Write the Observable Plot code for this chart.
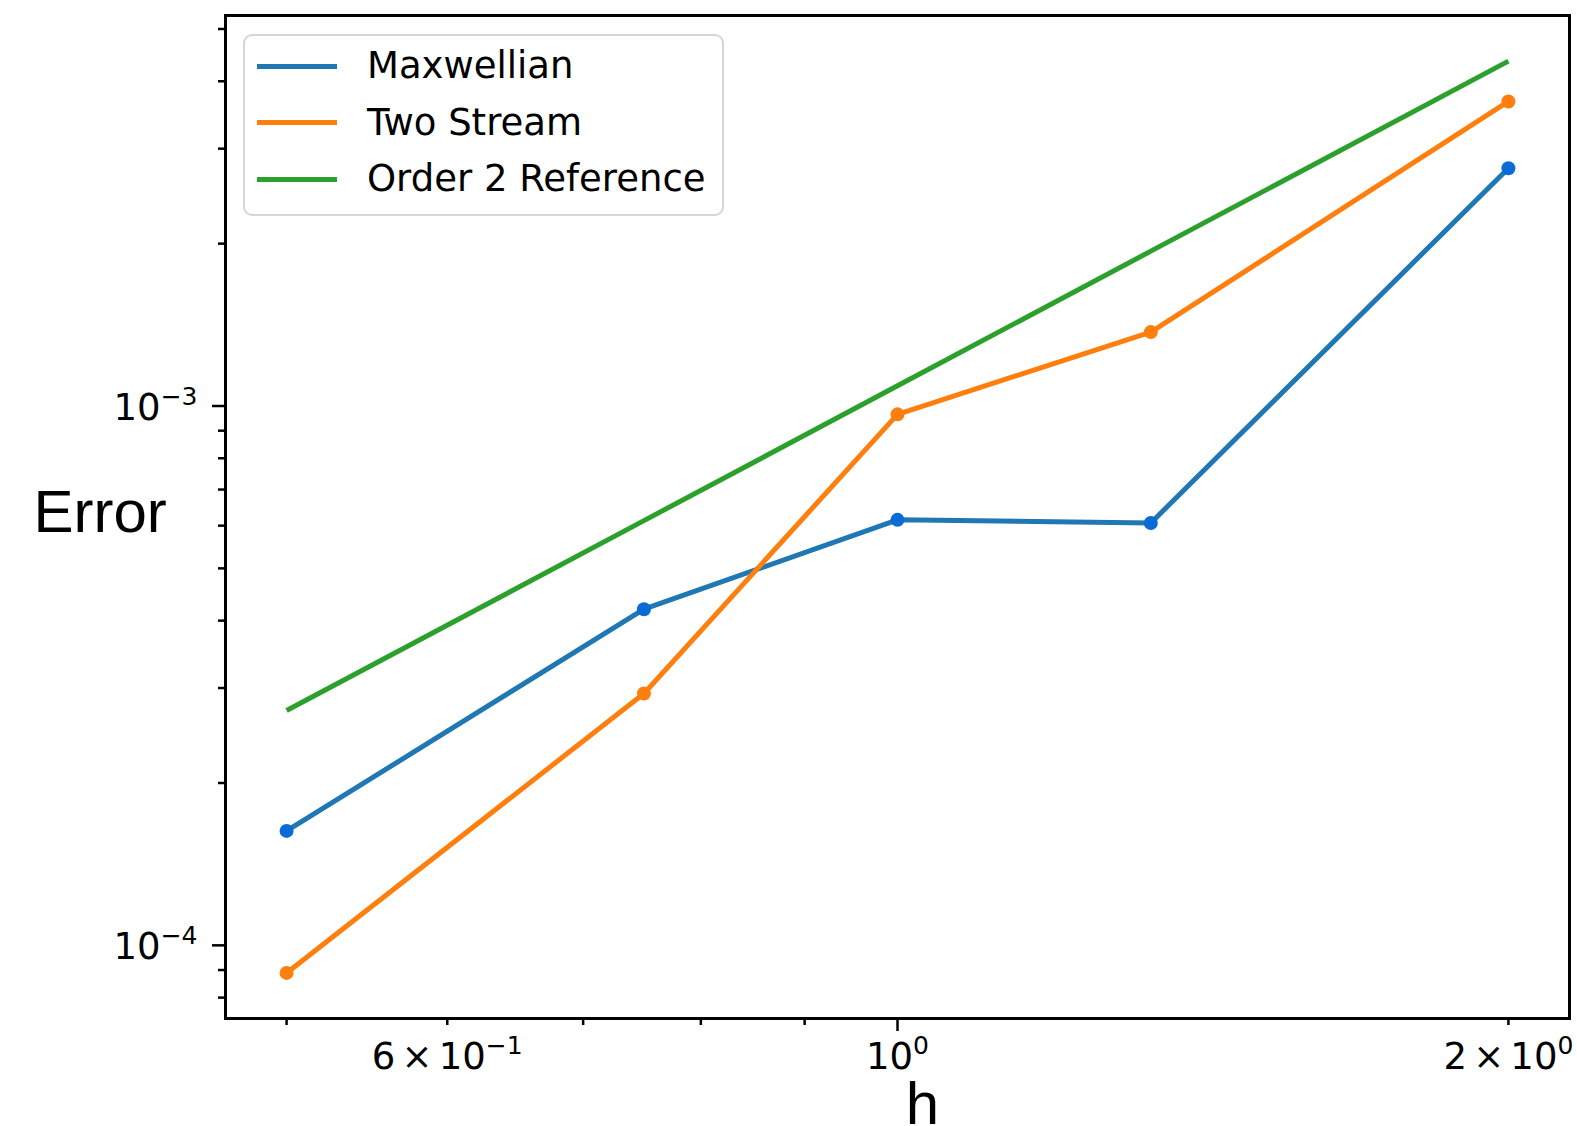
<!DOCTYPE html>
<html>
<head>
<meta charset="utf-8">
<script src="https://cdn.jsdelivr.net/npm/d3@7"></script>
<script src="https://cdn.jsdelivr.net/npm/@observablehq/plot@0.6"></script>
<style>
  body { margin: 0; background: #fff; }
  #wrap { position: relative; width: 1577px; height: 1126px; overflow: hidden; background: #fff; }
  #legend { position: absolute; left: 243px; top: 34px; width: 477px; height: 178px;
            border: 2px solid #d6d6d6; border-radius: 9px; background: rgba(255,255,255,0.85);
            font-family: "DejaVu Sans"; font-size: 37px; color: #000; }
  .row { position: absolute; left: 0; height: 40px; display: flex; align-items: center; white-space: nowrap; }
  .sw { position: absolute; left: 12px; width: 80px; height: 5px; top: 17.5px; }
  .lbl { position: absolute; left: 122px; line-height: 40px; top: 0; }
</style>
</head>
<body>
<div id="wrap"></div>
<script>
// ---- data ----
const h = [0.5, 0.75, 1, 1.333, 2];
const maxwellian = [1.63e-4, 4.20e-4, 6.15e-4, 6.07e-4, 2.76e-3];
const twoStream = [8.89e-5, 2.93e-4, 9.65e-4, 1.371e-3, 3.67e-3];
const order2 = [2.725e-4, 6.13e-4, 1.09e-3, 1.937e-3, 4.36e-3];

const seriesNames = ["Maxwellian", "Two Stream", "Order 2 Reference"];
const lineColors = ["#1f77b4", "#ff7f0e", "#2ca02c"];
const dotColors = ["#0a6bd6", "#ff7f0e", null];

const xMajorTicks = [1];
const xMajorLabels = ["10^{0}"];
const xMinorLabeledTicks = [0.6, 2];
const xMinorLabels = ["6\u2006×\u200610^{−1}", "2\u2006×\u200610^{0}"];
const xMinorTicks = [0.5, 0.7, 0.8, 0.9];
const yMajorTicks = [1e-4, 1e-3];
const yMajorLabels = ["10^{−4}", "10^{−3}"];
const yMinorTicks = [8e-5, 9e-5, 2e-4, 3e-4, 4e-4, 5e-4, 6e-4, 7e-4, 8e-4, 9e-4, 2e-3, 3e-3, 4e-3, 5e-3];

// ---- build table ----
const seriesValues = [maxwellian, twoStream, order2];
const rows = [];
seriesValues.forEach((vals, s) => vals.forEach((v, i) => rows.push({h: h[i], err: v, series: seriesNames[s]})));

// matplotlib-like 5% log margins
function logDomain(vals) {
  const lo = d3.min(vals), hi = d3.max(vals);
  const m = Math.pow(hi / lo, 0.05);
  return [lo / m, hi * m];
}
const xDomain = logDomain(h);
const yDomain = logDomain(rows.map(d => d.err));

const fmtFrom = (ticks, labels) => v => {
  const i = ticks.findIndex(t => Math.abs(t - v) / t < 1e-9);
  return i >= 0 ? labels[i] : "";
};

const FS = 37;
const plot = Plot.plot({
  width: 1577,
  height: 1126,
  marginLeft: 225,
  marginRight: 8,
  marginTop: 15,
  marginBottom: 108,
  style: {fontFamily: "DejaVu Sans", fontSize: FS + "px", color: "#000", background: "transparent", overflow: "visible"},
  x: {type: "log", domain: xDomain},
  y: {type: "log", domain: yDomain},
  color: {domain: seriesNames, range: lineColors},
  marks: [
    Plot.line(rows, {x: "h", y: "err", z: "series", stroke: "series", strokeWidth: 5, strokeLinejoin: "round", strokeLinecap: "butt"}),
    ...seriesNames.map((name, s) => dotColors[s]
      ? Plot.dot(rows.filter(d => d.series === name), {x: "h", y: "err", r: 7, fill: dotColors[s], stroke: null})
      : null).filter(Boolean),
    Plot.frame({stroke: "#000", strokeWidth: 3}),
    Plot.axisY({ticks: yMajorTicks, tickSize: 13, tickPadding: 15, tickFormat: fmtFrom(yMajorTicks, yMajorLabels), strokeWidth: 2.5, fontSize: FS, label: null}),
    Plot.axisY({ticks: yMinorTicks, tickSize: 7, tickFormat: () => "", strokeWidth: 2.5, label: null}),
    Plot.axisX({ticks: xMajorTicks, tickSize: 13, tickPadding: 11.5, tickFormat: fmtFrom(xMajorTicks, xMajorLabels), strokeWidth: 2.5, fontSize: FS, label: null}),
    Plot.axisX({ticks: xMinorLabeledTicks, tickSize: 7, tickPadding: 17.5, tickFormat: fmtFrom(xMinorLabeledTicks, xMinorLabels), strokeWidth: 2.5, fontSize: FS, label: null}),
    Plot.axisX({ticks: xMinorTicks, tickSize: 7, tickFormat: () => "", strokeWidth: 2.5, label: null}),
    Plot.text(["Error"], {frameAnchor: "left", lineAnchor: "middle", text: d => d, dx: -192, dy: -4.5, textAnchor: "start", fontSize: 60, fontFamily: "Liberation Sans", fill: "#000"}),
    Plot.text(["h"], {frameAnchor: "bottom", lineAnchor: "middle", text: d => d, dx: 25, dy: 86, fontSize: 60, fontFamily: "Liberation Sans", fill: "#000"})
  ]
});

// superscripts as real text
const NS = "http://www.w3.org/2000/svg";
plot.querySelectorAll("text").forEach(t => {
  const m = t.textContent.match(/^(.*)\^\{(.*)\}$/);
  if (!m) return;
  const grp = t.closest("[aria-label]");
  const isY = grp && /^y-axis/.test(grp.getAttribute("aria-label"));
  t.textContent = "";
  const a = document.createElementNS(NS, "tspan");
  a.textContent = m[1];
  if (isY) a.setAttribute("dy", "2");
  const b = document.createElementNS(NS, "tspan");
  b.textContent = m[2];
  b.setAttribute("font-size", "25");
  b.setAttribute("dy", "-15");
  t.append(a, b);
});

const wrap = document.getElementById("wrap");
wrap.appendChild(plot);

// legend (inside axes, upper left)
const legend = document.createElement("div");
legend.id = "legend";
seriesNames.forEach((name, i) => {
  const row = document.createElement("div");
  row.className = "row";
  row.style.top = (30 - 20 + i * 56.5) + "px";
  row.style.width = "470px";
  const sw = document.createElement("div");
  sw.className = "sw";
  sw.style.background = lineColors[i];
  const lb = document.createElement("div");
  lb.className = "lbl";
  lb.textContent = name;
  row.append(sw, lb);
  legend.appendChild(row);
});
wrap.appendChild(legend);
</script>
</body>
</html>
